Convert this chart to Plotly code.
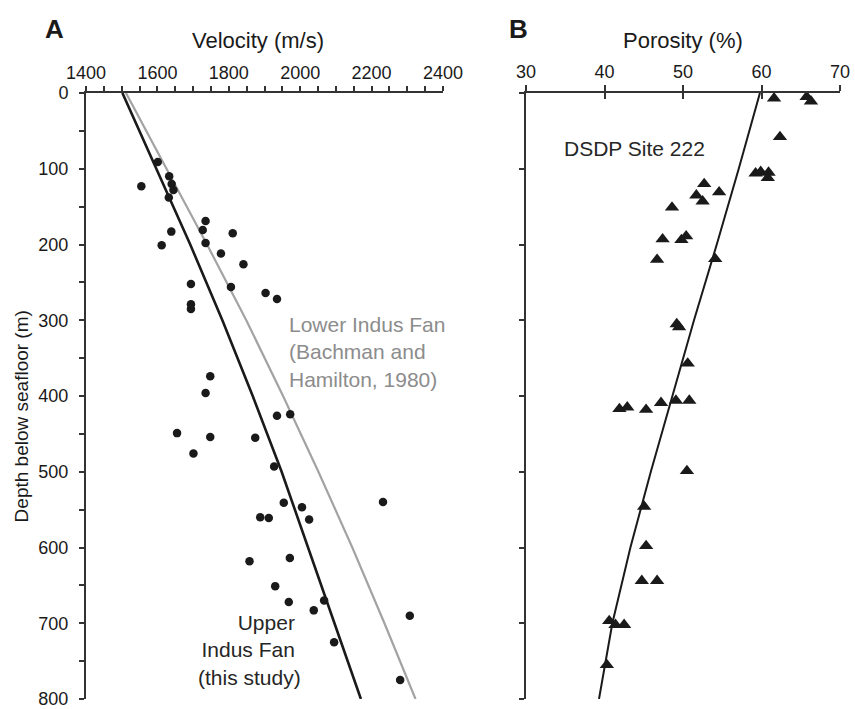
import plotly.graph_objects as go

# ---- Panel A: sonic velocity vs depth (Upper Indus Fan samples) ----
vel_ms = [1601, 1633, 1555, 1640, 1645, 1632, 1735, 1639, 1727, 1811, 1612, 1735,
          1778, 1841, 1694, 1806, 1903, 1935, 1694, 1694, 1748, 1735, 1935, 1972,
          1655, 1748, 1874, 1701, 1927, 1954, 2005, 1888, 1912, 2025, 2232, 1858,
          1971, 1930, 1968, 2067, 2038, 2307, 2095, 2280]
vel_depth_m = [91, 110, 123, 120, 128, 138, 169, 183, 181, 185, 201, 198,
               212, 226, 252, 256, 264, 272, 279, 285, 374, 396, 426, 424,
               449, 454, 455, 476, 493, 541, 547, 560, 561, 563, 540, 618,
               614, 651, 672, 670, 683, 690, 725, 775]

# velocity-depth functions
curve_depth_m = [0, 100, 200, 300, 400, 500, 600, 700, 800]
upper_fan_vel = [1502, 1598, 1692, 1782, 1867, 1948, 2023, 2096, 2170]
lower_fan_vel = [1512, 1626, 1739, 1849, 1952, 2051, 2146, 2236, 2323]

# ---- Panel B: porosity vs depth (DSDP Site 222) ----
porosity_pct = [61.6, 65.75, 66.3, 62.35, 59.25, 59.9, 60.9, 60.8,
                52.7, 51.7, 54.6, 52.5, 48.6, 47.4, 49.8, 50.4, 46.7, 54.1,
                49.2, 49.5, 50.6, 41.9, 42.9, 45.3, 47.2, 49.1, 50.8, 50.5,
                45.05, 45.3, 44.75, 46.7, 40.6, 41.4, 42.5, 40.3]
porosity_depth_m = [7, 5, 11, 58, 106, 104, 105, 112,
                    120, 135, 131, 143, 151, 193, 194, 189, 220, 219,
                    305, 309, 357, 417, 415, 418, 409, 406, 406, 499,
                    546, 598, 644, 644, 697, 702, 702, 755]

porosity_curve_depth = [0, 100, 200, 300, 400, 500, 600, 700, 800]
porosity_curve = [59.8, 57.1, 54.3, 51.4, 48.65, 45.9, 43.3, 41.0, 39.3]

FONT = "Liberation Sans, Arial, sans-serif"
INK = "#1a1a1a"
AXIS = "#333333"
GREY_LINE = "#a3a3a3"
GREY_TEXT = "#8c8c8c"

fig = go.Figure()

fig.add_trace(go.Scatter(x=lower_fan_vel, y=curve_depth_m, mode="lines",
                         line=dict(color=GREY_LINE, width=2.2),
                         xaxis="x", yaxis="y", showlegend=False))
fig.add_trace(go.Scatter(x=upper_fan_vel, y=curve_depth_m, mode="lines",
                         line=dict(color=INK, width=2.6),
                         xaxis="x", yaxis="y", showlegend=False))
fig.add_trace(go.Scatter(x=vel_ms, y=vel_depth_m, mode="markers",
                         marker=dict(symbol="circle", size=8.5, color=INK),
                         xaxis="x", yaxis="y", showlegend=False))

fig.add_trace(go.Scatter(x=porosity_curve, y=porosity_curve_depth, mode="lines",
                         line=dict(color=INK, width=2),
                         xaxis="x2", yaxis="y2", showlegend=False))
fig.add_trace(go.Scatter(x=porosity_pct, y=porosity_depth_m, mode="markers",
                         marker=dict(symbol="triangle-up", size=12.5, color=INK),
                         xaxis="x2", yaxis="y2", showlegend=False))
# carrier for the inward half of the crossing ticks on the porosity axis
fig.add_trace(go.Scatter(x=[30], y=[0], mode="markers", marker=dict(opacity=0),
                         xaxis="x3", yaxis="y2", showlegend=False, hoverinfo="skip"))

W, H = 855, 709
ydom = [1 - 699 / H, 1 - 93 / H]
tick_font = dict(family=FONT, size=18, color=INK)

common_x = dict(side="top", showgrid=False, zeroline=False, showline=True,
                linecolor=AXIS, linewidth=2, ticks="outside", ticklen=5,
                tickwidth=1.5, tickcolor=AXIS, tickfont=tick_font,
                ticklabelstandoff=0, automargin=False,
                ticklabeloverflow="allow")
common_y = dict(autorange=False, range=[800, 0], domain=ydom, showgrid=False,
                zeroline=False, showline=True, linecolor=AXIS, linewidth=2,
                ticks="outside", ticklen=5, tickwidth=1.5, tickcolor=AXIS,
                tickfont=tick_font, automargin=False,
                ticklabeloverflow="allow")

fig.update_layout(
    width=W, height=H,
    margin=dict(l=0, r=0, t=0, b=0, autoexpand=False),
    paper_bgcolor="white", plot_bgcolor="white",
    font=dict(family=FONT, color=INK),
    xaxis=dict(common_x, range=[1400, 2400], domain=[86 / W, 443 / W],
               anchor="y", tick0=1400, dtick=200,
               minor=dict(dtick=50, ticks="outside", ticklen=5, tickwidth=1.5,
                          tickcolor=AXIS)),
    yaxis=dict(common_y, anchor="x", tick0=0, dtick=100, ticklabelstandoff=7,
               minor=dict(dtick=50, ticks="outside", ticklen=5, tickwidth=1.5,
                          tickcolor=AXIS)),
    xaxis2=dict(common_x, range=[30, 70], domain=[526 / W, 840 / W],
                anchor="y2", tick0=30, dtick=10, ticklen=6),
    xaxis3=dict(range=[30, 70], overlaying="x2", anchor="y2", side="top",
                showgrid=False, zeroline=False, showline=False,
                showticklabels=False, ticks="inside", ticklen=6, tickwidth=1.5,
                tickcolor=AXIS, tick0=30, dtick=10, automargin=False),
    yaxis2=dict(common_y, anchor="x2", tick0=0, dtick=100,
                showticklabels=False),
)


def paper_label(text, px, py, size, bold=False, angle=0):
    return dict(text=f"<b>{text}</b>" if bold else text,
                x=px / W, y=1 - py / H, xref="paper", yref="paper",
                xanchor="center", yanchor="middle", textangle=angle,
                showarrow=False, font=dict(size=size, color=INK))


annotations = [
    paper_label("A", 54.5, 29, 26, bold=True),
    paper_label("B", 518.3, 29, 26, bold=True),
    paper_label("Velocity (m/s)", 258, 40, 22),
    paper_label("Porosity (%)", 683, 40, 22),
    paper_label("Depth below seafloor (m)", 21.7, 416.7, 19, angle=-90),
    dict(text="Lower Indus Fan<br>(Bachman and<br>Hamilton, 1980)",
         x=1962, y=342, xref="x", yref="y", xanchor="left", yanchor="middle",
         align="left", showarrow=False, font=dict(size=21, color=GREY_TEXT)),
    dict(text="Upper\u00a0<br>Indus Fan\u00a0<br>(this study)",
         x=2008, y=735, xref="x", yref="y", xanchor="right", yanchor="middle",
         align="right", showarrow=False, font=dict(size=21, color="#262626")),
    dict(text="DSDP Site 222", x=43.84, y=73, xref="x2", yref="y2",
         xanchor="center", yanchor="middle",
         showarrow=False, font=dict(size=21, color="#262626")),
]
fig.update_layout(annotations=annotations)

fig.write_html("out.html")
